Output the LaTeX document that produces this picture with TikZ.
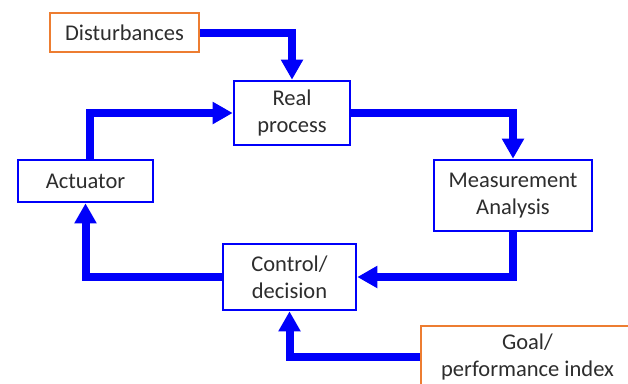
\documentclass[tikz,border=0pt]{standalone}
\usepackage{fontspec}
\setmainfont{Carlito}
\usetikzlibrary{arrows.meta}
\definecolor{flowblue}{RGB}{0,0,250}
\definecolor{boxorange}{RGB}{237,125,49}
\definecolor{txtgray}{RGB}{45,45,45}
\tikzset{
  blk/.style={draw=flowblue, line width=2.6pt, fill=white, align=center, inner sep=0pt,
     text=txtgray, font=\fontsize{22.5}{27}\selectfont},
  ext/.style={blk, draw=boxorange, line width=2.2pt},
  flow/.style={draw=flowblue, line width=8pt, line join=miter, -{Triangle[width=21pt,length=20pt]}},
}
\begin{document}
\begin{tikzpicture}[x=1pt,y=-1pt]
\useasboundingbox (0,0) rectangle (628,383);
\clip (0,0) rectangle (628,383);
\fill[white] (0,0) rectangle (628,383);
\node[ext, minimum width=149pt, minimum height=39pt] (dist) at (124.5,32.5) {Disturbances};
\node[blk, minimum width=116pt, minimum height=64pt] (real) at (292,113) {Real\\process};
\node[blk, minimum width=158pt, minimum height=71pt] (meas) at (513,195.5) {Measurement\\Analysis};
\node[blk, minimum width=135pt, minimum height=42pt] (act) at (85.5,181) {Actuator};
\node[blk, minimum width=133pt, minimum height=66pt] (ctrl) at (289.5,277) {Control/\\decision};
\node[ext, minimum width=213pt, minimum height=62pt] (goal) at (527.5,357) {Goal/\\performance index};
\draw[flow] (dist.east) -| (real.north);
\draw[flow] (real.east) -| (meas.north);
\draw[flow] (meas.south) |- (ctrl.east);
\draw[flow] (ctrl.west) -| (act.south);
\draw[flow] ([xshift=4pt]act.north) |- (real.west);
\draw[flow] (goal.west) -| (ctrl.south);
\end{tikzpicture}
\end{document}
